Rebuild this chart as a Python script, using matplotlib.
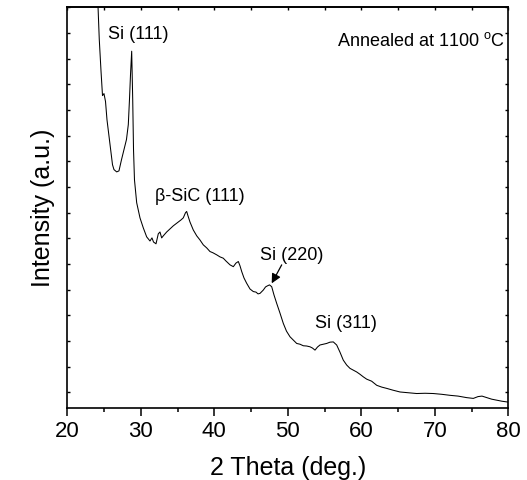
import matplotlib

matplotlib.use("Agg")

from matplotlib import pyplot as plt

plt.rcParams['font.family'] = ['Liberation Sans', 'DejaVu Sans']
plt.rcParams['mathtext.default'] = 'regular'

# XRD pattern (2 theta in deg, intensity in a.u.)
two_theta = [
    23.97, 24.18, 24.35, 24.59, 24.79, 24.99, 25.20, 25.40, 25.61, 25.88,
    26.15, 26.35, 26.72, 27.03, 27.37, 27.71, 28.05, 28.30, 28.46, 28.60,
    28.76, 28.90, 29.01, 29.14, 29.44, 29.89, 30.34, 30.80, 31.25, 31.52,
    31.73, 32.07, 32.38, 32.61, 32.84, 33.06, 33.52, 33.97, 34.42, 34.79,
    35.10, 35.47, 35.78, 36.08, 36.24, 36.42, 36.69, 37.14, 37.61, 38.05,
    38.50, 38.97, 39.41, 39.82, 40.33, 40.78, 41.22, 41.59, 42.14, 42.59,
    42.95, 43.27, 43.50, 43.73, 44.04, 44.41, 44.86, 45.31, 45.67, 45.95,
    46.22, 46.67, 46.97, 47.21, 47.51, 47.81, 48.12, 48.49, 48.94, 49.39,
    49.82, 50.30, 50.75, 51.21, 51.66, 52.11, 52.57, 53.02, 53.36, 53.70,
    54.04, 54.38, 54.83, 55.29, 55.74, 56.19, 56.65, 57.10, 57.55, 58.01,
    58.46, 58.91, 59.37, 59.82, 60.27, 60.73, 61.41, 62.10, 62.78, 63.46,
    64.31, 65.27, 66.36, 67.54, 68.67, 69.80, 70.94, 72.07, 73.16, 74.34,
    75.24, 75.88, 76.42, 77.06, 77.74, 78.42, 79.14, 79.89,
]
intensity = [
    16.48, 15.03, 13.75, 12.50, 11.56, 11.64, 11.33, 10.62, 10.12, 9.45,
    8.87, 8.68, 8.59, 8.63, 9.06, 9.45, 9.85, 10.43, 11.41, 12.38,
    13.29, 11.41, 9.45, 8.28, 7.39, 6.80, 6.41, 6.06, 5.90, 6.02,
    5.86, 5.79, 6.18, 6.25, 6.02, 6.10, 6.25, 6.37, 6.49, 6.57,
    6.64, 6.72, 6.80, 7.00, 7.05, 6.88, 6.64, 6.33, 6.10, 5.94,
    5.75, 5.63, 5.49, 5.44, 5.36, 5.28, 5.23, 5.12, 4.97, 4.90,
    5.04, 5.10, 4.93, 4.71, 4.46, 4.25, 4.03, 3.93, 3.91, 3.84,
    3.86, 3.99, 4.11, 4.15, 4.19, 4.12, 3.80, 3.47, 3.09, 2.69,
    2.39, 2.17, 2.04, 1.91, 1.88, 1.82, 1.81, 1.78, 1.73, 1.65,
    1.77, 1.85, 1.88, 1.91, 1.96, 1.97, 1.85, 1.57, 1.26, 1.07,
    0.94, 0.87, 0.80, 0.71, 0.61, 0.52, 0.44, 0.28, 0.21, 0.16,
    0.09, 0.02, -0.01, -0.04, -0.03, -0.04, -0.07, -0.11, -0.14, -0.20,
    -0.23, -0.16, -0.14, -0.20, -0.26, -0.30, -0.34, -0.37,
]

# peak labels: text, x, y (data)
peak_labels = ["Si (111)", "\u03b2-SiC (111)", "Si (220)", "Si (311)"]
peak_x = [25.50, 31.93, 46.22, 53.72]
peak_y = [13.94, 7.63, 5.32, 2.69]

# arrow for Si (220): tail -> head
arrow_tail = (49.17, 4.97)
arrow_head = (47.81, 4.25)

x_major = list(range(20, 81, 10))
x_minor = list(range(25, 80, 10))
y_ticks = list(range(0, 16))

fig = plt.figure(figsize=(5.27, 4.8), dpi=100)
ax = fig.add_axes([0.1277, 0.151, 0.8368, 0.8338])

ax.plot(two_theta, intensity, color="black", linewidth=0.75)

ax.set_xlim(20, 80)
ax.set_ylim(-0.585, 15)

ax.set_xticks(x_major)
ax.set_xticks(x_minor, minor=True)
ax.tick_params(axis="x", which="major", direction="out", length=6, width=1.1,
               labelsize=16, pad=4)
ax.tick_params(axis="x", which="minor", direction="out", length=3, width=1.1)

ax.set_yticks(y_ticks)
ax.tick_params(axis="y", which="major", direction="in", length=2.5, width=1.0,
               left=True, right=True, labelleft=False)

top = ax.secondary_xaxis("top")
top.set_xticks(x_major + x_minor)
top.tick_params(axis="x", direction="in", length=2.5, width=1.0, labeltop=False)

for side in ["left", "right", "top", "bottom"]:
    ax.spines[side].set_linewidth(1.2)
top.spines["top"].set_linewidth(1.2)

ax.set_xlabel("2 Theta (deg.)", fontsize=18, labelpad=10)
ax.set_ylabel("Intensity (a.u.)", fontsize=18, labelpad=9)

for label, lx, ly in zip(peak_labels, peak_x, peak_y):
    ax.text(lx, ly, label, fontsize=13, ha="left", va="center")

ax.annotate("", xy=arrow_head, xytext=arrow_tail,
            arrowprops=dict(arrowstyle="-|>", color="black", lw=0.9,
                            mutation_scale=14, shrinkA=0, shrinkB=0))

ax.text(0.612, 0.916, "Annealed at 1100 $^{o}$C", transform=ax.transAxes,
        fontsize=13, ha="left", va="center")

fig.savefig("out.png", dpi=100)
